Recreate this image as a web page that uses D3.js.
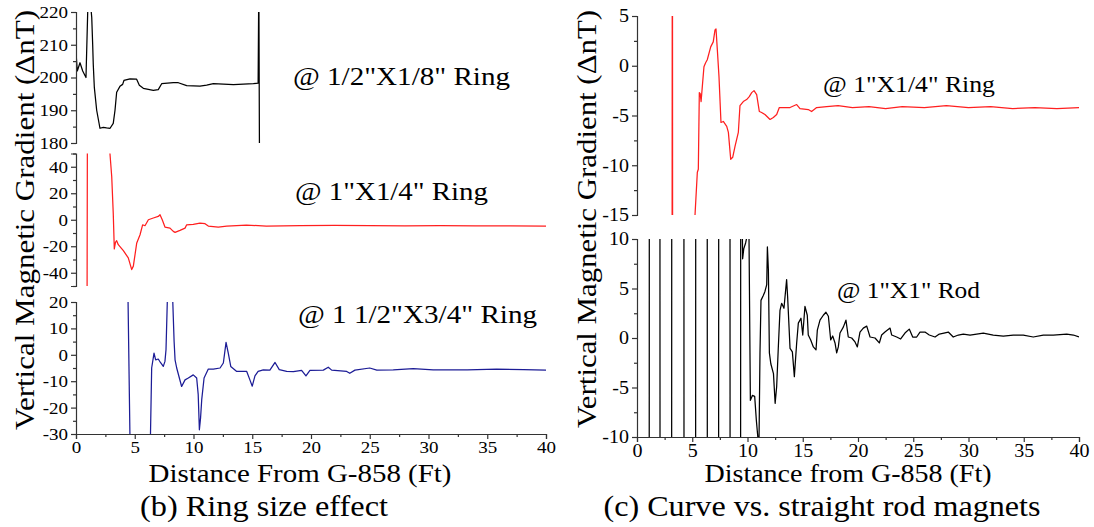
<!DOCTYPE html>
<html>
<head>
<meta charset="utf-8">
<script src="https://cdn.jsdelivr.net/npm/d3@7"></script>
<style>
  body { margin: 0; background: #fff; }
</style>
</head>
<body>
<svg id="chart" width="1094" height="527"></svg>
<script>
// distance (ft) vs. gradient (nT)
const ringEighth = [
  [0, 207.6], [0.11, 202], [0.34, 204.5], [0.57, 202], [0.85, 200], [1.0, 220.5], [1.1, 225],
  [1.25, 222], [1.34, 218.3], [1.42, 210], [1.47, 204], [1.56, 197], [1.76, 190], [2.04, 184.5],
  [2.32, 184.8], [2.6, 184.6], [2.9, 184.5], [3.17, 186], [3.32, 190], [3.46, 195.5], [3.74, 197.3],
  [3.97, 197.9], [4.08, 199.1], [4.6, 199.6], [5.16, 199.5], [5.39, 197.6], [5.73, 196.7],
  [6.58, 196.1], [7.0, 196.3], [7.29, 198.1], [8.28, 198.4], [8.71, 198.4], [9.42, 197.5],
  [10.55, 197.4], [11.12, 197.7], [11.69, 198.1], [13.4, 197.8], [15.1, 198.1], [15.5, 198.3],
  [15.56, 230], [15.62, 170]
];

const ringQuarterB = [
  [0.94, -70], [0.97, 70], [2.85, 70], [2.89, 50], [3.04, 32.6], [3.17, 5], [3.26, -22], [3.36, -17],
  [3.46, -15.8], [3.6, -18.8], [4.03, -23.3], [4.45, -28.8], [4.74, -37.6], [4.88, -35], [5.17, -17.5],
  [5.45, -11.3], [5.67, -3.8], [5.87, -4.5], [6.16, 0], [6.58, 1.3], [7.0, 2.5], [7.15, 3.8], [7.34, 0],
  [7.57, -5.5], [8.0, -6.3], [8.28, -8.8], [8.43, -9.5], [8.85, -8], [9.28, -6.3], [9.42, -3.8],
  [9.98, -3.5], [10.55, -2.5], [10.98, -3], [11.26, -4.8], [12.11, -5.5], [12.83, -4.8], [14.5, -4],
  [16.2, -4.8], [19.06, -4.5], [22, -4.3], [25, -4.5], [28, -4.6], [31, -4.5], [34, -4.6],
  [37, -4.7], [40, -4.8]
];

const ringThreeQuarter = [
  [4.4, 30], [4.62, -40], [6.3, -40], [6.44, -5], [6.64, 0.6], [6.78, -1.9], [7.0, -1.6], [7.2, -3],
  [7.43, -4.4], [7.57, -2.5], [7.66, 1.9], [7.8, 25], [8.2, 25], [8.35, 5], [8.43, -1.9], [8.57, -5],
  [8.99, -12], [9.28, -9.5], [9.56, -8.8], [9.98, -7.6], [10.27, -8.8], [10.4, -15], [10.5, -28.4],
  [10.6, -24], [10.7, -17], [10.9, -8.8], [11.26, -5.4], [11.69, -5.4], [12.26, -5], [12.54, -3.1],
  [12.77, 4.7], [12.96, 0.6], [13.17, -4.4], [13.68, -6.3], [14.53, -6.3], [14.8, -9.5], [15.0, -11.9],
  [15.23, -8], [15.5, -6.3], [15.94, -5.7], [16.5, -5.8], [16.94, -2.9], [17.3, -5.6], [17.93, -6.3],
  [18.5, -6.4], [19.2, -5.9], [19.57, -8], [19.91, -5.9], [21.05, -5.8], [21.47, -4.7], [21.76, -5.8],
  [23.04, -6.3], [23.3, -7], [23.74, -5.8], [25.0, -5], [25.6, -5.8], [27.0, -5.7], [28.7, -5.2],
  [30.4, -5.7], [33.3, -5.7], [35.8, -5.4], [38.1, -5.6], [40, -5.8]
];

const ringQuarterC = [
  [3.17, -40], [3.2, 40], [3.23, -40], [5.2, -40], [5.25, -15], [5.46, -10.7], [5.55, -10.4],
  [5.64, -2.7], [5.72, -2.8], [5.8, -3.6], [5.94, -1.7], [6.06, -0.1], [6.21, 0.3], [6.36, 0.6],
  [6.67, 1.9], [6.9, 2.4], [7.06, 3.6], [7.15, 3.7], [7.27, 1.6], [7.42, -1.1], [7.6, -5.7],
  [7.81, -5.6], [8.12, -6.1], [8.27, -6.7], [8.48, -9.4], [8.66, -9.2], [8.87, -8.1], [9.17, -6.7],
  [9.32, -4], [9.62, -3.6], [9.92, -3.4], [10.16, -3.1], [10.38, -2.7], [10.59, -2.5], [10.83, -2.9],
  [11.07, -4.6], [11.28, -4.7], [11.58, -4.9], [12.04, -5.4], [12.34, -5.2], [12.64, -4.9],
  [12.88, -4.2], [13.85, -4.2], [14.45, -3.9], [14.75, -4.3], [15.5, -4.4], [15.8, -4.6],
  [16.26, -4.2], [17.16, -4.1], [18.2, -4.0], [19.5, -4.2], [21, -4.1], [22.5, -4.3], [24, -4.1],
  [26, -4.2], [28, -4.0], [30, -4.2], [32, -4.1], [34, -4.3], [36, -4.2], [38, -4.3], [40, -4.2]
];

const rodOne = [
  [0.9, -40], [1.1, -40], [1.12, 40], [2.07, 40], [2.09, -40], [3.13, -40], [3.15, 40], [4.24, 40],
  [4.26, -40], [5.3, -40], [5.32, 40], [6.35, 40], [6.37, -40], [7.38, -40], [7.4, 40], [8.41, 40],
  [8.43, -40], [9.37, -40], [9.39, 40], [9.5, 14], [9.56, 8.0], [9.66, 9.0], [9.83, 9.6], [9.98, 10.4],
  [10.13, 11], [10.26, -6.3], [10.44, -5.8], [10.65, -5.9], [10.8, -8.3], [10.95, -10.2], [11.04, -10.6],
  [11.13, -1.5], [11.22, 3.8], [11.43, 4.3], [11.58, 4.7], [11.74, 5.4], [11.8, 9.2], [11.89, 6.9],
  [11.98, -1.5], [12.11, -2.6], [12.35, -3.6], [12.5, -6.6], [12.64, -4.9], [12.79, -0.9], [12.94, 2.8],
  [13.09, 3.5], [13.3, 3.0], [13.54, 5.9], [13.63, 4.2], [13.85, -1.05], [14.06, -1.4], [14.24, -3.9],
  [14.45, -0.5], [14.6, 1.5], [14.84, 2.0], [15.0, 0.3], [15.2, 3.2], [15.41, 2.3], [15.5, 0.3],
  [15.72, -0.2], [15.96, -0.9], [16.2, -1.2], [16.32, 0.8], [16.56, 1.8], [16.86, 2.3], [17.1, 2.6],
  [17.32, 2.2], [17.53, -0.2], [17.71, 0.2], [17.92, -0.5], [18.07, -1.5], [18.22, -0.9], [18.37, 0.5],
  [18.67, 1.1], [18.91, 1.8], [19.12, 0.1], [19.43, 0], [19.73, -0.4], [19.94, -0.9], [20.18, 0.6],
  [20.48, 1.0], [20.79, 1.2], [21.09, 0.1], [21.54, 0], [21.93, -0.5], [22.14, 0.3], [22.44, 0.6],
  [22.9, 1.0], [23.05, 0.3], [23.5, 0.1], [23.86, -0.1], [24.25, 0.5], [24.64, 0.9], [24.95, 0.1],
  [25.31, 0.1], [25.61, 0.6], [26.06, 0.6], [26.45, 0.3], [26.97, 0.1], [27.36, 0.4], [27.78, 0.5],
  [28.17, 0.6], [28.62, 0.1], [29.08, 0.3], [29.53, 0.4], [30.14, 0.3], [30.74, 0.4], [31.34, 0.5],
  [32.24, 0.3], [33.15, 0.2], [34.05, 0.3], [34.96, 0.3], [35.86, 0.1], [36.77, 0.3], [37.67, 0.3],
  [38.89, 0.4], [39.49, 0.3], [40, 0.1]
];

const distTicks = [0, 5, 10, 15, 20, 25, 30, 35, 40];
const distMinor = [2.5, 7.5, 12.5, 17.5, 22.5, 27.5, 32.5, 37.5];
const ticksEighth = [180, 190, 200, 210, 220];
const minorEighth = [185, 195, 205, 215];
const ticksQuarterB = [-40, -20, 0, 20, 40];
const minorQuarterB = [-50, -30, -10, 10, 30, 50];
const ticksThreeQuarter = [-30, -20, -10, 0, 10, 20];
const minorThreeQuarter = [-25, -15, -5, 5, 15];
const ticksQuarterC = [-15, -10, -5, 0, 5];
const minorQuarterC = [-12.5, -7.5, -2.5, 2.5];
const ticksRod = [-10, -5, 0, 5, 10];
const minorRod = [-7.5, -2.5, 2.5, 7.5];

// the renderer falls back to a sans face, so shrink a little and pin widths to the Times originals
const FONT = "'Liberation Serif', 'Times New Roman', serif";
const SCALE = 0.9;
const timesWidth = (s, size) => [...s].reduce((w, ch) => w + (ch === "-" ? 0.333 : 0.5), 0) * size;

const svg = d3.select("#chart");
let clipId = 0;

function label(sel, size, len) {
  sel.attr("font-family", FONT).attr("font-size", size * SCALE).attr("fill", "#000");
  if (len) sel.attr("textLength", len).attr("lengthAdjust", "spacingAndGlyphs");
  return sel;
}

function drawPanel(p) {
  const x = d3.scaleLinear().domain([0, 40]).range(p.xr);
  const y = d3.scaleLinear().domain(p.yd).range(p.yr);
  const g = svg.append("g");
  const id = "clip" + (clipId++);

  g.append("clipPath").attr("id", id).append("rect")
    .attr("x", p.xr[0]).attr("y", p.yr[1])
    .attr("width", p.xr[1] - p.xr[0]).attr("height", p.yr[0] - p.yr[1]);

  g.append("path")
    .datum(p.data)
    .attr("clip-path", `url(#${id})`)
    .attr("fill", "none")
    .attr("stroke", p.color)
    .attr("stroke-width", 1.25)
    .attr("stroke-linejoin", "round")
    .attr("d", d3.line().x(d => x(d[0])).y(d => y(d[1])));

  g.append("g").attr("transform", `translate(${p.xr[0]},0)`)
    .call(d3.axisLeft(y).tickValues(p.yt).tickSize(5).tickPadding(3).tickFormat(d => String(d)));
  g.append("g").attr("transform", `translate(${p.xr[0]},0)`)
    .call(d3.axisLeft(y).tickValues(p.ym).tickSize(3).tickFormat(""))
    .select(".domain").remove();

  if (p.showX) {
    g.append("g").attr("transform", `translate(0,${p.yr[0]})`)
      .call(d3.axisBottom(x).tickValues(distTicks).tickSize(5).tickPadding(2).tickFormat(d => String(d)));
    g.append("g").attr("transform", `translate(0,${p.yr[0]})`)
      .call(d3.axisBottom(x).tickValues(distMinor).tickSize(3).tickFormat(""))
      .select(".domain").remove();
  }

  g.selectAll("g").attr("font-family", FONT).attr("font-size", p.tickFont * SCALE);
  g.selectAll(".domain, .tick line").attr("stroke", "#333").attr("stroke-width", 1.2);
  g.selectAll(".tick text")
    .attr("fill", "#000")
    .attr("textLength", function () { return timesWidth(this.textContent, p.tickFont); })
    .attr("lengthAdjust", "spacingAndGlyphs");

  label(g.append("text").attr("x", p.label[1]).attr("y", p.label[2]), p.label[3], p.label[4])
    .text(p.label[0]);
}

// left figure (b)
drawPanel({ xr: [76, 546], yr: [143, 12], yd: [180, 220], yt: ticksEighth, ym: minorEighth,
  data: ringEighth, color: "#000", tickFont: 19, label: ['@ 1/2"X1/8" Ring', 293, 85, 29, 217] });
drawPanel({ xr: [76, 546], yr: [286, 153.5], yd: [-50, 50], yt: ticksQuarterB, ym: minorQuarterB,
  data: ringQuarterB, color: "#ff1f1f", tickFont: 19, label: ['@ 1"X1/4" Ring', 295, 200, 29, 193] });
drawPanel({ xr: [76, 546], yr: [434, 302], yd: [-30, 20], yt: ticksThreeQuarter, ym: minorThreeQuarter,
  data: ringThreeQuarter, color: "#1c1c96", tickFont: 19, showX: true,
  label: ['@ 1 1/2"X3/4" Ring', 298, 323, 29, 239] });

// right figure (c)
drawPanel({ xr: [637, 1079], yr: [215, 16], yd: [-15, 5], yt: ticksQuarterC, ym: minorQuarterC,
  data: ringQuarterC, color: "#ff1f1f", tickFont: 20, label: ['@ 1"X1/4" Ring', 823, 92, 26, 172] });
drawPanel({ xr: [637, 1079], yr: [437, 239], yd: [-10, 10], yt: ticksRod, ym: minorRod,
  data: rodOne, color: "#000", tickFont: 20, showX: true, label: ['@ 1"X1" Rod', 837, 298, 25.5, 143] });

// titles
function title(tx, ty, rot, size, len, str) {
  const t = svg.append("text")
    .attr("transform", `translate(${tx - (rot ? 0 : len / 2)},${ty + (rot ? len / 2 : 0)})` + (rot ? " rotate(-90)" : ""));
  label(t, size, len).text(str);
}
title(34, 220, true, 31, 420, "Vertical Magnetic Gradient (\u0394nT)");
title(596, 219, true, 31, 418, "Vertical Magnetic Gradient (\u0394nT)");
title(300, 482, false, 29, 303, "Distance From G-858 (Ft)");
title(848, 482, false, 28, 287, "Distance from G-858 (Ft)");
title(264, 516, false, 32, 248, "(b) Ring size effect");
title(822, 516, false, 32, 437, "(c) Curve vs. straight rod magnets");
</script>
</body>
</html>
